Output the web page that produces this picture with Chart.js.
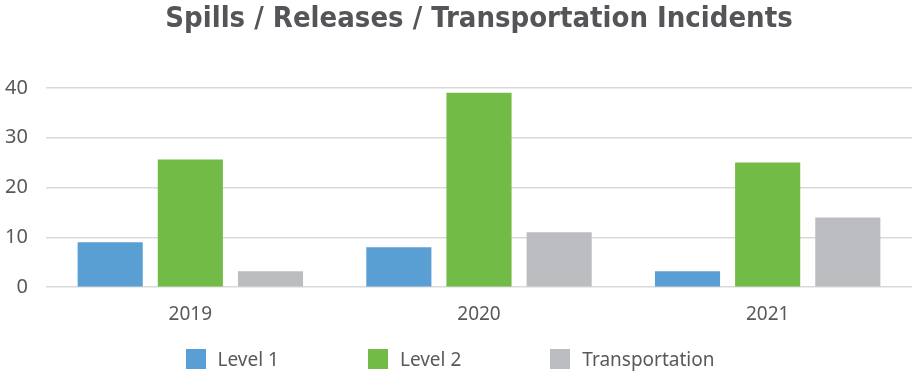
<!DOCTYPE html>
<html>
<head>
<meta charset="utf-8">
<script src="https://cdn.jsdelivr.net/npm/chart.js@4/dist/chart.umd.min.js"></script>
<style>
  html, body { margin: 0; padding: 0; background: #fff; }
  #wrap { position: relative; width: 920px; height: 373px; }
  #legend {
    position: absolute; left: 0; top: 348px; width: 900px;
    display: flex; justify-content: center; gap: 89px;
    font-family: 'Noto Sans', sans-serif; font-size: 19px; color: #595959;
  }
  #legend .item { display: flex; align-items: center; height: 22px; }
  #legend .box { width: 20px; height: 20px; margin-right: 12px; }
</style>
</head>
<body>
<div id="wrap">
  <canvas id="incidents-chart"></canvas>
  <div id="legend"></div>
</div>
<script>
  // チャートのデータ
  var years = ['2019', '2020', '2021'];
  var level1Val = [9, 8, 3.2];
  var level2Val = [25.6, 39, 25];
  var transportVal = [3.2, 11, 14];
  var yTicks = [0, 10, 20, 30, 40];

  var ctx = document.getElementById('incidents-chart');
  var myChart = new Chart(ctx, {
    type: 'bar',
    data: {
      labels: years,
      datasets: [
        {label: 'Level 1', data: level1Val, backgroundColor: '#5a9fd4'},
        {label: 'Level 2', data: level2Val, backgroundColor: '#72bb46'},
        {label: 'Transportation', data: transportVal, backgroundColor: '#bcbdc0'}
      ]
    },
    options: {
      responsive: true,
      maintainAspectRatio: false,
      animation: false,
      layout: {padding: {left: 3, right: 8, top: 2, bottom: 39}},
      datasets: {bar: {categoryPercentage: 0.833, barPercentage: 0.8125}},
      scales: {
        x: {
          grid: {display: false},
          border: {display: false},
          ticks: {color: '#595959', font: {family: 'Noto Sans', size: 19}, padding: 8}
        },
        y: {
          min: yTicks[0],
          max: yTicks[yTicks.length - 1],
          afterFit: function(scale) { scale.width = 43; },
          ticks: {stepSize: 10, color: '#595959', font: {family: 'Noto Sans', size: 20}, padding: 18},
          grid: {color: '#d9d9d9', lineWidth: 1.5, drawTicks: false},
          border: {display: false}
        }
      },
      plugins: {
        title: {
          display: true,
          fullSize: false,
          text: 'Spills / Releases / Transportation Incidents',
          color: '#555559',
          font: {family: 'DejaVu Sans Condensed', size: 29, weight: 'bold'},
          padding: {top: 0, bottom: 51}
        },
        legend: {display: false},
        tooltip: {enabled: false}
      }
    }
  });

  // 凡例
  myChart.data.datasets.forEach(function(ds) {
    var item = document.createElement('div');
    item.className = 'item';
    var box = document.createElement('span');
    box.className = 'box';
    box.style.background = ds.backgroundColor;
    var txt = document.createElement('span');
    txt.textContent = ds.label;
    item.appendChild(box);
    item.appendChild(txt);
    document.getElementById('legend').appendChild(item);
  });
</script>
</body>
</html>
